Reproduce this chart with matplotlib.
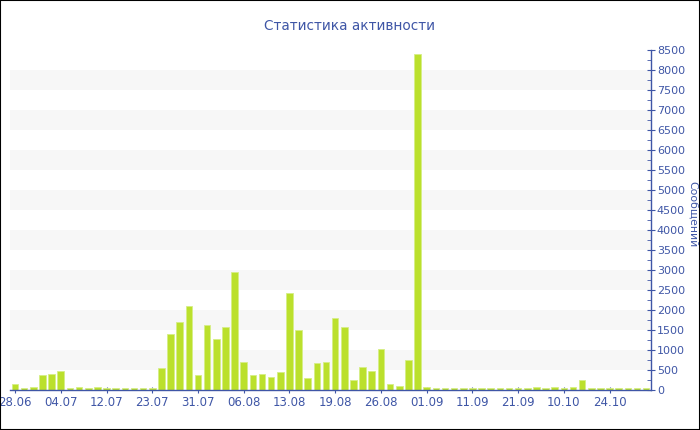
import matplotlib
matplotlib.use("Agg")
import matplotlib.pyplot as plt
from matplotlib.patches import Rectangle
from matplotlib.ticker import MultipleLocator

# messages per period, in display order
messages = [
    140, 50, 75, 370, 390, 480, 60, 75, 45, 75,
    45, 50, 45, 45, 45, 50, 550, 1400, 1695, 2095,
    380, 1635, 1275, 1580, 2960, 710, 375, 400, 315, 460,
    2420, 1500, 310, 685, 695, 1795, 1580, 245, 570, 475,
    1025, 145, 95, 745, 8400, 75, 55, 55, 45, 55,
    45, 45, 45, 45, 50, 45, 50, 75, 45, 75,
    45, 65, 260, 55, 50, 45, 45, 45, 45, 45,
]
date_labels = ["28.06", "04.07", "12.07", "23.07", "31.07", "06.08", "13.08",
               "19.08", "26.08", "01.09", "11.09", "21.09", "10.10", "24.10"]
label_step = 5

text_blue = "#3f56a6"
bar_green = "#bbe02c"

fig = plt.figure(figsize=(7, 4.3), dpi=100)
ax = fig.add_axes([0.0143, 0.093, 0.916, 0.791])

# alternating horizontal bands
for lo in range(500, 8500, 1000):
    ax.axhspan(lo, lo + 500, color="#f7f7f7", zorder=0, lw=0)

x = list(range(len(messages)))
ax.bar(x, messages, width=0.72, color=bar_green, edgecolor="#d6ee86",
       linewidth=0.6, zorder=2)

ax.set_xlim(-0.55, len(messages) - 0.45)
ax.set_ylim(0, 8500)

ax.set_xticks(x[::label_step][:len(date_labels)])
ax.set_xticklabels(date_labels)
ax.yaxis.tick_right()
ax.yaxis.set_major_locator(MultipleLocator(500))
ax.yaxis.set_minor_locator(MultipleLocator(250))

for side in ("top", "left"):
    ax.spines[side].set_visible(False)
for side in ("bottom", "right"):
    ax.spines[side].set_color(text_blue)
    ax.spines[side].set_linewidth(1.0)

ax.tick_params(axis="x", colors=text_blue, labelsize=8.5, direction="inout",
               length=4, pad=2)
ax.tick_params(axis="y", which="major", colors=text_blue, labelsize=8,
               direction="inout", length=6, pad=1)
ax.tick_params(axis="y", which="minor", colors=text_blue, direction="in",
               length=3)

fig.text(0.5, 0.94, "Статистика активности", color=text_blue,
         fontsize=9.8, ha="center", va="center")
fig.text(0.99, 0.502, "Сообщений", color=text_blue, fontsize=7.8,
         rotation=270, ha="center", va="center")

# thin frame around the whole figure
fig.patches.append(Rectangle((0, 0), 1, 1, transform=fig.transFigure,
                             fill=False, edgecolor="black", linewidth=1.5))

fig.savefig("out.png", dpi=100)
